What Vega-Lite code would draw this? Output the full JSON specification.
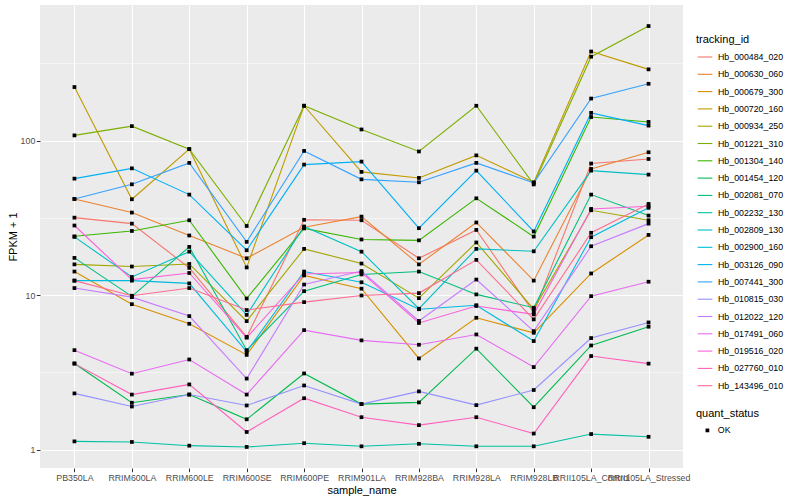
{
"$schema": "https://vega.github.io/schema/vega-lite/v6.json",
"width": 643, "height": 463,
"autosize": {"type": "none"},
"padding": {"left": 40, "top": 5, "right": 117, "bottom": 32},
"background": "white",
"config": {
  "font": "Liberation Sans",
  "view": {"fill": "#EBEBEB", "stroke": null},
  "axis": {"domain": false, "gridColor": "white", "tickColor": "#333333", "tickSize": 3.7, "tickWidth": 1, "labelColor": "#4D4D4D", "labelFontSize": 8.8, "labelFont": "Liberation Sans", "titleFont": "Liberation Sans", "titleFontSize": 11, "titleFontWeight": "normal", "titleColor": "black", "labelPadding": 1.5},
  "legend": {"titleFont": "Liberation Sans", "labelFont": "Liberation Sans", "titleFontSize": 11, "titleFontWeight": "normal", "titleColor": "black", "labelFontSize": 8.8, "labelColor": "black", "padding": 0}
},
"data": {"values": [
{"sample_name":"PB350LA","tracking_id":"Hb_000484_020","FPKM_plus_1":31.7,"quant_status":"OK"},
{"sample_name":"RRIM600LA","tracking_id":"Hb_000484_020","FPKM_plus_1":29.0,"quant_status":"OK"},
{"sample_name":"RRIM600LE","tracking_id":"Hb_000484_020","FPKM_plus_1":15.0,"quant_status":"OK"},
{"sample_name":"RRIM600SE","tracking_id":"Hb_000484_020","FPKM_plus_1":5.36,"quant_status":"OK"},
{"sample_name":"RRIM600PE","tracking_id":"Hb_000484_020","FPKM_plus_1":30.7,"quant_status":"OK"},
{"sample_name":"RRIM901LA","tracking_id":"Hb_000484_020","FPKM_plus_1":30.5,"quant_status":"OK"},
{"sample_name":"RRIM928BA","tracking_id":"Hb_000484_020","FPKM_plus_1":17.3,"quant_status":"OK"},
{"sample_name":"RRIM928LA","tracking_id":"Hb_000484_020","FPKM_plus_1":26.4,"quant_status":"OK"},
{"sample_name":"RRIM928LB","tracking_id":"Hb_000484_020","FPKM_plus_1":7.7,"quant_status":"OK"},
{"sample_name":"RRII105LA_Control","tracking_id":"Hb_000484_020","FPKM_plus_1":71,"quant_status":"OK"},
{"sample_name":"RRII105LA_Stressed","tracking_id":"Hb_000484_020","FPKM_plus_1":76,"quant_status":"OK"},
{"sample_name":"PB350LA","tracking_id":"Hb_000630_060","FPKM_plus_1":41.9,"quant_status":"OK"},
{"sample_name":"RRIM600LA","tracking_id":"Hb_000630_060","FPKM_plus_1":34.2,"quant_status":"OK"},
{"sample_name":"RRIM600LE","tracking_id":"Hb_000630_060","FPKM_plus_1":24.3,"quant_status":"OK"},
{"sample_name":"RRIM600SE","tracking_id":"Hb_000630_060","FPKM_plus_1":17.3,"quant_status":"OK"},
{"sample_name":"RRIM600PE","tracking_id":"Hb_000630_060","FPKM_plus_1":27.5,"quant_status":"OK"},
{"sample_name":"RRIM901LA","tracking_id":"Hb_000630_060","FPKM_plus_1":32.2,"quant_status":"OK"},
{"sample_name":"RRIM928BA","tracking_id":"Hb_000630_060","FPKM_plus_1":15.8,"quant_status":"OK"},
{"sample_name":"RRIM928LA","tracking_id":"Hb_000630_060","FPKM_plus_1":29.5,"quant_status":"OK"},
{"sample_name":"RRIM928LB","tracking_id":"Hb_000630_060","FPKM_plus_1":12.4,"quant_status":"OK"},
{"sample_name":"RRII105LA_Control","tracking_id":"Hb_000630_060","FPKM_plus_1":65.5,"quant_status":"OK"},
{"sample_name":"RRII105LA_Stressed","tracking_id":"Hb_000630_060","FPKM_plus_1":84,"quant_status":"OK"},
{"sample_name":"PB350LA","tracking_id":"Hb_000679_300","FPKM_plus_1":14.2,"quant_status":"OK"},
{"sample_name":"RRIM600LA","tracking_id":"Hb_000679_300","FPKM_plus_1":8.73,"quant_status":"OK"},
{"sample_name":"RRIM600LE","tracking_id":"Hb_000679_300","FPKM_plus_1":6.52,"quant_status":"OK"},
{"sample_name":"RRIM600SE","tracking_id":"Hb_000679_300","FPKM_plus_1":4.1,"quant_status":"OK"},
{"sample_name":"RRIM600PE","tracking_id":"Hb_000679_300","FPKM_plus_1":13.4,"quant_status":"OK"},
{"sample_name":"RRIM901LA","tracking_id":"Hb_000679_300","FPKM_plus_1":11.0,"quant_status":"OK"},
{"sample_name":"RRIM928BA","tracking_id":"Hb_000679_300","FPKM_plus_1":3.89,"quant_status":"OK"},
{"sample_name":"RRIM928LA","tracking_id":"Hb_000679_300","FPKM_plus_1":7.13,"quant_status":"OK"},
{"sample_name":"RRIM928LB","tracking_id":"Hb_000679_300","FPKM_plus_1":5.7,"quant_status":"OK"},
{"sample_name":"RRII105LA_Control","tracking_id":"Hb_000679_300","FPKM_plus_1":13.8,"quant_status":"OK"},
{"sample_name":"RRII105LA_Stressed","tracking_id":"Hb_000679_300","FPKM_plus_1":24.5,"quant_status":"OK"},
{"sample_name":"PB350LA","tracking_id":"Hb_000720_160","FPKM_plus_1":222,"quant_status":"OK"},
{"sample_name":"RRIM600LA","tracking_id":"Hb_000720_160","FPKM_plus_1":41.7,"quant_status":"OK"},
{"sample_name":"RRIM600LE","tracking_id":"Hb_000720_160","FPKM_plus_1":88,"quant_status":"OK"},
{"sample_name":"RRIM600SE","tracking_id":"Hb_000720_160","FPKM_plus_1":15.1,"quant_status":"OK"},
{"sample_name":"RRIM600PE","tracking_id":"Hb_000720_160","FPKM_plus_1":168,"quant_status":"OK"},
{"sample_name":"RRIM901LA","tracking_id":"Hb_000720_160","FPKM_plus_1":62.7,"quant_status":"OK"},
{"sample_name":"RRIM928BA","tracking_id":"Hb_000720_160","FPKM_plus_1":57.3,"quant_status":"OK"},
{"sample_name":"RRIM928LA","tracking_id":"Hb_000720_160","FPKM_plus_1":80.2,"quant_status":"OK"},
{"sample_name":"RRIM928LB","tracking_id":"Hb_000720_160","FPKM_plus_1":53.7,"quant_status":"OK"},
{"sample_name":"RRII105LA_Control","tracking_id":"Hb_000720_160","FPKM_plus_1":377,"quant_status":"OK"},
{"sample_name":"RRII105LA_Stressed","tracking_id":"Hb_000720_160","FPKM_plus_1":289,"quant_status":"OK"},
{"sample_name":"PB350LA","tracking_id":"Hb_000934_250","FPKM_plus_1":15.8,"quant_status":"OK"},
{"sample_name":"RRIM600LA","tracking_id":"Hb_000934_250","FPKM_plus_1":15.3,"quant_status":"OK"},
{"sample_name":"RRIM600LE","tracking_id":"Hb_000934_250","FPKM_plus_1":15.9,"quant_status":"OK"},
{"sample_name":"RRIM600SE","tracking_id":"Hb_000934_250","FPKM_plus_1":6.78,"quant_status":"OK"},
{"sample_name":"RRIM600PE","tracking_id":"Hb_000934_250","FPKM_plus_1":19.9,"quant_status":"OK"},
{"sample_name":"RRIM901LA","tracking_id":"Hb_000934_250","FPKM_plus_1":16.0,"quant_status":"OK"},
{"sample_name":"RRIM928BA","tracking_id":"Hb_000934_250","FPKM_plus_1":9.55,"quant_status":"OK"},
{"sample_name":"RRIM928LA","tracking_id":"Hb_000934_250","FPKM_plus_1":21.9,"quant_status":"OK"},
{"sample_name":"RRIM928LB","tracking_id":"Hb_000934_250","FPKM_plus_1":8.1,"quant_status":"OK"},
{"sample_name":"RRII105LA_Control","tracking_id":"Hb_000934_250","FPKM_plus_1":35.4,"quant_status":"OK"},
{"sample_name":"RRII105LA_Stressed","tracking_id":"Hb_000934_250","FPKM_plus_1":30.5,"quant_status":"OK"},
{"sample_name":"PB350LA","tracking_id":"Hb_001221_310","FPKM_plus_1":108,"quant_status":"OK"},
{"sample_name":"RRIM600LA","tracking_id":"Hb_001221_310","FPKM_plus_1":124,"quant_status":"OK"},
{"sample_name":"RRIM600LE","tracking_id":"Hb_001221_310","FPKM_plus_1":88,"quant_status":"OK"},
{"sample_name":"RRIM600SE","tracking_id":"Hb_001221_310","FPKM_plus_1":28,"quant_status":"OK"},
{"sample_name":"RRIM600PE","tracking_id":"Hb_001221_310","FPKM_plus_1":168,"quant_status":"OK"},
{"sample_name":"RRIM901LA","tracking_id":"Hb_001221_310","FPKM_plus_1":118,"quant_status":"OK"},
{"sample_name":"RRIM928BA","tracking_id":"Hb_001221_310","FPKM_plus_1":85,"quant_status":"OK"},
{"sample_name":"RRIM928LA","tracking_id":"Hb_001221_310","FPKM_plus_1":168,"quant_status":"OK"},
{"sample_name":"RRIM928LB","tracking_id":"Hb_001221_310","FPKM_plus_1":52,"quant_status":"OK"},
{"sample_name":"RRII105LA_Control","tracking_id":"Hb_001221_310","FPKM_plus_1":349,"quant_status":"OK"},
{"sample_name":"RRII105LA_Stressed","tracking_id":"Hb_001221_310","FPKM_plus_1":551,"quant_status":"OK"},
{"sample_name":"PB350LA","tracking_id":"Hb_001304_140","FPKM_plus_1":24.0,"quant_status":"OK"},
{"sample_name":"RRIM600LA","tracking_id":"Hb_001304_140","FPKM_plus_1":26.0,"quant_status":"OK"},
{"sample_name":"RRIM600LE","tracking_id":"Hb_001304_140","FPKM_plus_1":30.5,"quant_status":"OK"},
{"sample_name":"RRIM600SE","tracking_id":"Hb_001304_140","FPKM_plus_1":9.5,"quant_status":"OK"},
{"sample_name":"RRIM600PE","tracking_id":"Hb_001304_140","FPKM_plus_1":27.0,"quant_status":"OK"},
{"sample_name":"RRIM901LA","tracking_id":"Hb_001304_140","FPKM_plus_1":22.9,"quant_status":"OK"},
{"sample_name":"RRIM928BA","tracking_id":"Hb_001304_140","FPKM_plus_1":22.6,"quant_status":"OK"},
{"sample_name":"RRIM928LA","tracking_id":"Hb_001304_140","FPKM_plus_1":42.3,"quant_status":"OK"},
{"sample_name":"RRIM928LB","tracking_id":"Hb_001304_140","FPKM_plus_1":23.9,"quant_status":"OK"},
{"sample_name":"RRII105LA_Control","tracking_id":"Hb_001304_140","FPKM_plus_1":142,"quant_status":"OK"},
{"sample_name":"RRII105LA_Stressed","tracking_id":"Hb_001304_140","FPKM_plus_1":132,"quant_status":"OK"},
{"sample_name":"PB350LA","tracking_id":"Hb_001454_120","FPKM_plus_1":3.61,"quant_status":"OK"},
{"sample_name":"RRIM600LA","tracking_id":"Hb_001454_120","FPKM_plus_1":2.01,"quant_status":"OK"},
{"sample_name":"RRIM600LE","tracking_id":"Hb_001454_120","FPKM_plus_1":2.27,"quant_status":"OK"},
{"sample_name":"RRIM600SE","tracking_id":"Hb_001454_120","FPKM_plus_1":1.57,"quant_status":"OK"},
{"sample_name":"RRIM600PE","tracking_id":"Hb_001454_120","FPKM_plus_1":3.11,"quant_status":"OK"},
{"sample_name":"RRIM901LA","tracking_id":"Hb_001454_120","FPKM_plus_1":1.97,"quant_status":"OK"},
{"sample_name":"RRIM928BA","tracking_id":"Hb_001454_120","FPKM_plus_1":2.02,"quant_status":"OK"},
{"sample_name":"RRIM928LA","tracking_id":"Hb_001454_120","FPKM_plus_1":4.50,"quant_status":"OK"},
{"sample_name":"RRIM928LB","tracking_id":"Hb_001454_120","FPKM_plus_1":1.88,"quant_status":"OK"},
{"sample_name":"RRII105LA_Control","tracking_id":"Hb_001454_120","FPKM_plus_1":4.72,"quant_status":"OK"},
{"sample_name":"RRII105LA_Stressed","tracking_id":"Hb_001454_120","FPKM_plus_1":6.24,"quant_status":"OK"},
{"sample_name":"PB350LA","tracking_id":"Hb_002081_070","FPKM_plus_1":17.4,"quant_status":"OK"},
{"sample_name":"RRIM600LA","tracking_id":"Hb_002081_070","FPKM_plus_1":9.8,"quant_status":"OK"},
{"sample_name":"RRIM600LE","tracking_id":"Hb_002081_070","FPKM_plus_1":20.5,"quant_status":"OK"},
{"sample_name":"RRIM600SE","tracking_id":"Hb_002081_070","FPKM_plus_1":4.4,"quant_status":"OK"},
{"sample_name":"RRIM600PE","tracking_id":"Hb_002081_070","FPKM_plus_1":10.6,"quant_status":"OK"},
{"sample_name":"RRIM901LA","tracking_id":"Hb_002081_070","FPKM_plus_1":13.6,"quant_status":"OK"},
{"sample_name":"RRIM928BA","tracking_id":"Hb_002081_070","FPKM_plus_1":14.2,"quant_status":"OK"},
{"sample_name":"RRIM928LA","tracking_id":"Hb_002081_070","FPKM_plus_1":10.1,"quant_status":"OK"},
{"sample_name":"RRIM928LB","tracking_id":"Hb_002081_070","FPKM_plus_1":8.28,"quant_status":"OK"},
{"sample_name":"RRII105LA_Control","tracking_id":"Hb_002081_070","FPKM_plus_1":44.7,"quant_status":"OK"},
{"sample_name":"RRII105LA_Stressed","tracking_id":"Hb_002081_070","FPKM_plus_1":32.7,"quant_status":"OK"},
{"sample_name":"PB350LA","tracking_id":"Hb_002232_130","FPKM_plus_1":1.13,"quant_status":"OK"},
{"sample_name":"RRIM600LA","tracking_id":"Hb_002232_130","FPKM_plus_1":1.12,"quant_status":"OK"},
{"sample_name":"RRIM600LE","tracking_id":"Hb_002232_130","FPKM_plus_1":1.06,"quant_status":"OK"},
{"sample_name":"RRIM600SE","tracking_id":"Hb_002232_130","FPKM_plus_1":1.04,"quant_status":"OK"},
{"sample_name":"RRIM600PE","tracking_id":"Hb_002232_130","FPKM_plus_1":1.10,"quant_status":"OK"},
{"sample_name":"RRIM901LA","tracking_id":"Hb_002232_130","FPKM_plus_1":1.05,"quant_status":"OK"},
{"sample_name":"RRIM928BA","tracking_id":"Hb_002232_130","FPKM_plus_1":1.09,"quant_status":"OK"},
{"sample_name":"RRIM928LA","tracking_id":"Hb_002232_130","FPKM_plus_1":1.05,"quant_status":"OK"},
{"sample_name":"RRIM928LB","tracking_id":"Hb_002232_130","FPKM_plus_1":1.05,"quant_status":"OK"},
{"sample_name":"RRII105LA_Control","tracking_id":"Hb_002232_130","FPKM_plus_1":1.26,"quant_status":"OK"},
{"sample_name":"RRII105LA_Stressed","tracking_id":"Hb_002232_130","FPKM_plus_1":1.21,"quant_status":"OK"},
{"sample_name":"PB350LA","tracking_id":"Hb_002809_130","FPKM_plus_1":23.8,"quant_status":"OK"},
{"sample_name":"RRIM600LA","tracking_id":"Hb_002809_130","FPKM_plus_1":13.1,"quant_status":"OK"},
{"sample_name":"RRIM600LE","tracking_id":"Hb_002809_130","FPKM_plus_1":19.1,"quant_status":"OK"},
{"sample_name":"RRIM600SE","tracking_id":"Hb_002809_130","FPKM_plus_1":7.45,"quant_status":"OK"},
{"sample_name":"RRIM600PE","tracking_id":"Hb_002809_130","FPKM_plus_1":27.8,"quant_status":"OK"},
{"sample_name":"RRIM901LA","tracking_id":"Hb_002809_130","FPKM_plus_1":19.1,"quant_status":"OK"},
{"sample_name":"RRIM928BA","tracking_id":"Hb_002809_130","FPKM_plus_1":8.16,"quant_status":"OK"},
{"sample_name":"RRIM928LA","tracking_id":"Hb_002809_130","FPKM_plus_1":19.9,"quant_status":"OK"},
{"sample_name":"RRIM928LB","tracking_id":"Hb_002809_130","FPKM_plus_1":19.2,"quant_status":"OK"},
{"sample_name":"RRII105LA_Control","tracking_id":"Hb_002809_130","FPKM_plus_1":63.9,"quant_status":"OK"},
{"sample_name":"RRII105LA_Stressed","tracking_id":"Hb_002809_130","FPKM_plus_1":60.2,"quant_status":"OK"},
{"sample_name":"PB350LA","tracking_id":"Hb_002900_160","FPKM_plus_1":12.4,"quant_status":"OK"},
{"sample_name":"RRIM600LA","tracking_id":"Hb_002900_160","FPKM_plus_1":12.4,"quant_status":"OK"},
{"sample_name":"RRIM600LE","tracking_id":"Hb_002900_160","FPKM_plus_1":11.9,"quant_status":"OK"},
{"sample_name":"RRIM600SE","tracking_id":"Hb_002900_160","FPKM_plus_1":4.3,"quant_status":"OK"},
{"sample_name":"RRIM600PE","tracking_id":"Hb_002900_160","FPKM_plus_1":14.2,"quant_status":"OK"},
{"sample_name":"RRIM901LA","tracking_id":"Hb_002900_160","FPKM_plus_1":12.1,"quant_status":"OK"},
{"sample_name":"RRIM928BA","tracking_id":"Hb_002900_160","FPKM_plus_1":8.1,"quant_status":"OK"},
{"sample_name":"RRIM928LA","tracking_id":"Hb_002900_160","FPKM_plus_1":8.6,"quant_status":"OK"},
{"sample_name":"RRIM928LB","tracking_id":"Hb_002900_160","FPKM_plus_1":5.04,"quant_status":"OK"},
{"sample_name":"RRII105LA_Control","tracking_id":"Hb_002900_160","FPKM_plus_1":23.7,"quant_status":"OK"},
{"sample_name":"RRII105LA_Stressed","tracking_id":"Hb_002900_160","FPKM_plus_1":36.7,"quant_status":"OK"},
{"sample_name":"PB350LA","tracking_id":"Hb_003126_090","FPKM_plus_1":56.7,"quant_status":"OK"},
{"sample_name":"RRIM600LA","tracking_id":"Hb_003126_090","FPKM_plus_1":66.1,"quant_status":"OK"},
{"sample_name":"RRIM600LE","tracking_id":"Hb_003126_090","FPKM_plus_1":44.7,"quant_status":"OK"},
{"sample_name":"RRIM600SE","tracking_id":"Hb_003126_090","FPKM_plus_1":19.5,"quant_status":"OK"},
{"sample_name":"RRIM600PE","tracking_id":"Hb_003126_090","FPKM_plus_1":69.9,"quant_status":"OK"},
{"sample_name":"RRIM901LA","tracking_id":"Hb_003126_090","FPKM_plus_1":73.1,"quant_status":"OK"},
{"sample_name":"RRIM928BA","tracking_id":"Hb_003126_090","FPKM_plus_1":27.1,"quant_status":"OK"},
{"sample_name":"RRIM928LA","tracking_id":"Hb_003126_090","FPKM_plus_1":63.9,"quant_status":"OK"},
{"sample_name":"RRIM928LB","tracking_id":"Hb_003126_090","FPKM_plus_1":25.8,"quant_status":"OK"},
{"sample_name":"RRII105LA_Control","tracking_id":"Hb_003126_090","FPKM_plus_1":151,"quant_status":"OK"},
{"sample_name":"RRII105LA_Stressed","tracking_id":"Hb_003126_090","FPKM_plus_1":125,"quant_status":"OK"},
{"sample_name":"PB350LA","tracking_id":"Hb_007441_300","FPKM_plus_1":41.9,"quant_status":"OK"},
{"sample_name":"RRIM600LA","tracking_id":"Hb_007441_300","FPKM_plus_1":52.1,"quant_status":"OK"},
{"sample_name":"RRIM600LE","tracking_id":"Hb_007441_300","FPKM_plus_1":71.7,"quant_status":"OK"},
{"sample_name":"RRIM600SE","tracking_id":"Hb_007441_300","FPKM_plus_1":22.1,"quant_status":"OK"},
{"sample_name":"RRIM600PE","tracking_id":"Hb_007441_300","FPKM_plus_1":85.7,"quant_status":"OK"},
{"sample_name":"RRIM901LA","tracking_id":"Hb_007441_300","FPKM_plus_1":56.1,"quant_status":"OK"},
{"sample_name":"RRIM928BA","tracking_id":"Hb_007441_300","FPKM_plus_1":53.7,"quant_status":"OK"},
{"sample_name":"RRIM928LA","tracking_id":"Hb_007441_300","FPKM_plus_1":71.7,"quant_status":"OK"},
{"sample_name":"RRIM928LB","tracking_id":"Hb_007441_300","FPKM_plus_1":53.2,"quant_status":"OK"},
{"sample_name":"RRII105LA_Control","tracking_id":"Hb_007441_300","FPKM_plus_1":187,"quant_status":"OK"},
{"sample_name":"RRII105LA_Stressed","tracking_id":"Hb_007441_300","FPKM_plus_1":233,"quant_status":"OK"},
{"sample_name":"PB350LA","tracking_id":"Hb_010815_030","FPKM_plus_1":2.31,"quant_status":"OK"},
{"sample_name":"RRIM600LA","tracking_id":"Hb_010815_030","FPKM_plus_1":1.90,"quant_status":"OK"},
{"sample_name":"RRIM600LE","tracking_id":"Hb_010815_030","FPKM_plus_1":2.27,"quant_status":"OK"},
{"sample_name":"RRIM600SE","tracking_id":"Hb_010815_030","FPKM_plus_1":1.93,"quant_status":"OK"},
{"sample_name":"RRIM600PE","tracking_id":"Hb_010815_030","FPKM_plus_1":2.60,"quant_status":"OK"},
{"sample_name":"RRIM901LA","tracking_id":"Hb_010815_030","FPKM_plus_1":1.97,"quant_status":"OK"},
{"sample_name":"RRIM928BA","tracking_id":"Hb_010815_030","FPKM_plus_1":2.38,"quant_status":"OK"},
{"sample_name":"RRIM928LA","tracking_id":"Hb_010815_030","FPKM_plus_1":1.94,"quant_status":"OK"},
{"sample_name":"RRIM928LB","tracking_id":"Hb_010815_030","FPKM_plus_1":2.43,"quant_status":"OK"},
{"sample_name":"RRII105LA_Control","tracking_id":"Hb_010815_030","FPKM_plus_1":5.27,"quant_status":"OK"},
{"sample_name":"RRII105LA_Stressed","tracking_id":"Hb_010815_030","FPKM_plus_1":6.65,"quant_status":"OK"},
{"sample_name":"PB350LA","tracking_id":"Hb_012022_120","FPKM_plus_1":11.1,"quant_status":"OK"},
{"sample_name":"RRIM600LA","tracking_id":"Hb_012022_120","FPKM_plus_1":9.7,"quant_status":"OK"},
{"sample_name":"RRIM600LE","tracking_id":"Hb_012022_120","FPKM_plus_1":7.31,"quant_status":"OK"},
{"sample_name":"RRIM600SE","tracking_id":"Hb_012022_120","FPKM_plus_1":2.88,"quant_status":"OK"},
{"sample_name":"RRIM600PE","tracking_id":"Hb_012022_120","FPKM_plus_1":11.7,"quant_status":"OK"},
{"sample_name":"RRIM901LA","tracking_id":"Hb_012022_120","FPKM_plus_1":14.3,"quant_status":"OK"},
{"sample_name":"RRIM928BA","tracking_id":"Hb_012022_120","FPKM_plus_1":6.8,"quant_status":"OK"},
{"sample_name":"RRIM928LA","tracking_id":"Hb_012022_120","FPKM_plus_1":12.6,"quant_status":"OK"},
{"sample_name":"RRIM928LB","tracking_id":"Hb_012022_120","FPKM_plus_1":5.84,"quant_status":"OK"},
{"sample_name":"RRII105LA_Control","tracking_id":"Hb_012022_120","FPKM_plus_1":20.7,"quant_status":"OK"},
{"sample_name":"RRII105LA_Stressed","tracking_id":"Hb_012022_120","FPKM_plus_1":29.0,"quant_status":"OK"},
{"sample_name":"PB350LA","tracking_id":"Hb_017491_060","FPKM_plus_1":4.40,"quant_status":"OK"},
{"sample_name":"RRIM600LA","tracking_id":"Hb_017491_060","FPKM_plus_1":3.10,"quant_status":"OK"},
{"sample_name":"RRIM600LE","tracking_id":"Hb_017491_060","FPKM_plus_1":3.83,"quant_status":"OK"},
{"sample_name":"RRIM600SE","tracking_id":"Hb_017491_060","FPKM_plus_1":2.27,"quant_status":"OK"},
{"sample_name":"RRIM600PE","tracking_id":"Hb_017491_060","FPKM_plus_1":5.93,"quant_status":"OK"},
{"sample_name":"RRIM901LA","tracking_id":"Hb_017491_060","FPKM_plus_1":5.09,"quant_status":"OK"},
{"sample_name":"RRIM928BA","tracking_id":"Hb_017491_060","FPKM_plus_1":4.77,"quant_status":"OK"},
{"sample_name":"RRIM928LA","tracking_id":"Hb_017491_060","FPKM_plus_1":5.56,"quant_status":"OK"},
{"sample_name":"RRIM928LB","tracking_id":"Hb_017491_060","FPKM_plus_1":3.42,"quant_status":"OK"},
{"sample_name":"RRII105LA_Control","tracking_id":"Hb_017491_060","FPKM_plus_1":9.84,"quant_status":"OK"},
{"sample_name":"RRII105LA_Stressed","tracking_id":"Hb_017491_060","FPKM_plus_1":12.2,"quant_status":"OK"},
{"sample_name":"PB350LA","tracking_id":"Hb_019516_020","FPKM_plus_1":28.2,"quant_status":"OK"},
{"sample_name":"RRIM600LA","tracking_id":"Hb_019516_020","FPKM_plus_1":12.6,"quant_status":"OK"},
{"sample_name":"RRIM600LE","tracking_id":"Hb_019516_020","FPKM_plus_1":13.9,"quant_status":"OK"},
{"sample_name":"RRIM600SE","tracking_id":"Hb_019516_020","FPKM_plus_1":5.3,"quant_status":"OK"},
{"sample_name":"RRIM600PE","tracking_id":"Hb_019516_020","FPKM_plus_1":13.7,"quant_status":"OK"},
{"sample_name":"RRIM901LA","tracking_id":"Hb_019516_020","FPKM_plus_1":14.0,"quant_status":"OK"},
{"sample_name":"RRIM928BA","tracking_id":"Hb_019516_020","FPKM_plus_1":6.6,"quant_status":"OK"},
{"sample_name":"RRIM928LA","tracking_id":"Hb_019516_020","FPKM_plus_1":8.5,"quant_status":"OK"},
{"sample_name":"RRIM928LB","tracking_id":"Hb_019516_020","FPKM_plus_1":7.5,"quant_status":"OK"},
{"sample_name":"RRII105LA_Control","tracking_id":"Hb_019516_020","FPKM_plus_1":36.1,"quant_status":"OK"},
{"sample_name":"RRII105LA_Stressed","tracking_id":"Hb_019516_020","FPKM_plus_1":37.6,"quant_status":"OK"},
{"sample_name":"PB350LA","tracking_id":"Hb_027760_010","FPKM_plus_1":3.6,"quant_status":"OK"},
{"sample_name":"RRIM600LA","tracking_id":"Hb_027760_010","FPKM_plus_1":2.27,"quant_status":"OK"},
{"sample_name":"RRIM600LE","tracking_id":"Hb_027760_010","FPKM_plus_1":2.64,"quant_status":"OK"},
{"sample_name":"RRIM600SE","tracking_id":"Hb_027760_010","FPKM_plus_1":1.30,"quant_status":"OK"},
{"sample_name":"RRIM600PE","tracking_id":"Hb_027760_010","FPKM_plus_1":2.15,"quant_status":"OK"},
{"sample_name":"RRIM901LA","tracking_id":"Hb_027760_010","FPKM_plus_1":1.62,"quant_status":"OK"},
{"sample_name":"RRIM928BA","tracking_id":"Hb_027760_010","FPKM_plus_1":1.44,"quant_status":"OK"},
{"sample_name":"RRIM928LA","tracking_id":"Hb_027760_010","FPKM_plus_1":1.62,"quant_status":"OK"},
{"sample_name":"RRIM928LB","tracking_id":"Hb_027760_010","FPKM_plus_1":1.27,"quant_status":"OK"},
{"sample_name":"RRII105LA_Control","tracking_id":"Hb_027760_010","FPKM_plus_1":4.03,"quant_status":"OK"},
{"sample_name":"RRII105LA_Stressed","tracking_id":"Hb_027760_010","FPKM_plus_1":3.60,"quant_status":"OK"},
{"sample_name":"PB350LA","tracking_id":"Hb_143496_010","FPKM_plus_1":12.4,"quant_status":"OK"},
{"sample_name":"RRIM600LA","tracking_id":"Hb_143496_010","FPKM_plus_1":9.9,"quant_status":"OK"},
{"sample_name":"RRIM600LE","tracking_id":"Hb_143496_010","FPKM_plus_1":11.1,"quant_status":"OK"},
{"sample_name":"RRIM600SE","tracking_id":"Hb_143496_010","FPKM_plus_1":8.0,"quant_status":"OK"},
{"sample_name":"RRIM600PE","tracking_id":"Hb_143496_010","FPKM_plus_1":9.0,"quant_status":"OK"},
{"sample_name":"RRIM901LA","tracking_id":"Hb_143496_010","FPKM_plus_1":9.94,"quant_status":"OK"},
{"sample_name":"RRIM928BA","tracking_id":"Hb_143496_010","FPKM_plus_1":10.3,"quant_status":"OK"},
{"sample_name":"RRIM928LA","tracking_id":"Hb_143496_010","FPKM_plus_1":16.9,"quant_status":"OK"},
{"sample_name":"RRIM928LB","tracking_id":"Hb_143496_010","FPKM_plus_1":6.96,"quant_status":"OK"},
{"sample_name":"RRII105LA_Control","tracking_id":"Hb_143496_010","FPKM_plus_1":25.3,"quant_status":"OK"},
{"sample_name":"RRII105LA_Stressed","tracking_id":"Hb_143496_010","FPKM_plus_1":38.9,"quant_status":"OK"}
]},
"encoding": {
  "x": {"field": "sample_name", "type": "nominal",
        "sort": ["PB350LA","RRIM600LA","RRIM600LE","RRIM600SE","RRIM600PE","RRIM901LA","RRIM928BA","RRIM928LA","RRIM928LB","RRII105LA_Control","RRII105LA_Stressed"],
        "scale": {"type": "point", "padding": 0.6},
        "axis": {"title": "sample_name", "labelAngle": 0, "labelOverlap": false, "labelBound": false, "grid": true, "gridWidth": 1.07, "titlePadding": 2}},
  "y": {"field": "FPKM_plus_1", "type": "quantitative",
        "scale": {"type": "log", "domain": [0.76, 754], "nice": false},
        "axis": {"title": "FPKM + 1", "values": [1, 3.16228, 10, 31.6228, 100, 316.228], "format": "d",
                 "labelExpr": "(datum.value == 1 || datum.value == 10 || datum.value == 100) ? datum.label : ''",
                 "gridWidth": {"condition": {"test": "datum.value == 1 || datum.value == 10 || datum.value == 100", "value": 1.07}, "value": 0.53},
                 "tickOpacity": {"condition": {"test": "datum.value == 1 || datum.value == 10 || datum.value == 100", "value": 1}, "value": 0},
                 "titlePadding": 2}}
},
"layer": [
  {"mark": {"type": "line", "strokeWidth": 1.1},
   "encoding": {
     "color": {"field": "tracking_id", "type": "nominal",
       "scale": {"domain": ["Hb_000484_020","Hb_000630_060","Hb_000679_300","Hb_000720_160","Hb_000934_250","Hb_001221_310","Hb_001304_140","Hb_001454_120","Hb_002081_070","Hb_002232_130","Hb_002809_130","Hb_002900_160","Hb_003126_090","Hb_007441_300","Hb_010815_030","Hb_012022_120","Hb_017491_060","Hb_019516_020","Hb_027760_010","Hb_143496_010"],
                 "range": ["#F8766D","#EA8331","#D89000","#C09B00","#A3A500","#7CAE00","#39B600","#00BB4E","#00BF7D","#00C1A3","#00BFC4","#00BAE0","#00B0F6","#35A2FF","#9590FF","#C77CFF","#E76BF3","#FA62DB","#FF62BC","#FF6C91"]},
       "legend": {"title": "tracking_id", "orient": "none", "legendX": 656, "legendY": 29, "symbolType": "stroke", "symbolSize": 216, "symbolStrokeWidth": 1.1, "rowPadding": 4.3, "titlePadding": 4, "labelOffset": 5, "symbolOffset": 1}}
   }},
  {"mark": {"type": "point", "filled": true, "size": 14, "shape": "square", "color": "black", "opacity": 1},
   "encoding": {
     "shape": {"field": "quant_status", "type": "nominal", "scale": {"range": ["square"]},
       "legend": {"title": "quant_status", "orient": "none", "legendX": 656, "legendY": 403, "symbolFillColor": "black", "symbolStrokeColor": "black", "symbolSize": 14, "titlePadding": 7, "symbolOffset": 7, "labelOffset": 6}}
   }}
]
}
